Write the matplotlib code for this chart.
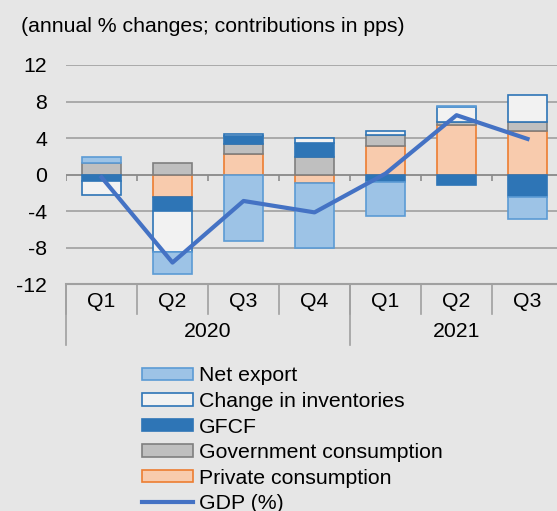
import numpy as np
import matplotlib.pyplot as plt
import matplotlib.transforms as mtransforms

plt.rcParams['font.family'] = ['Liberation Sans', 'DejaVu Sans']

quarters = ["Q1", "Q2", "Q3", "Q4", "Q1", "Q2", "Q3"]
years = ["2020", "2021"]
year_sizes = [4, 3]

# contributions in pps, stacked from zero outward in this order
private_cons = [0.0, -2.5, 2.3, -0.9, 3.1, 5.4, 4.75]
gov_cons = [1.3, 1.3, 1.0, 1.95, 1.25, 0.35, 1.0]
gfcf = [-0.75, -1.45, 0.9, 1.45, -0.8, -1.1, -2.5]
inventories = [-1.55, -4.5, 0.2, 0.6, 0.4, 1.6, 3.0]
net_export = [0.65, -2.45, -7.25, -7.2, -3.75, 0.2, -2.35]
gdp = [-0.3, -9.65, -2.9, -4.15, 0.1, 6.5, 3.9]

series = [
    ("Private consumption", private_cons, "#F8CBAD", "#ED7D31"),
    ("Government consumption", gov_cons, "#BFBFBF", "#7F7F7F"),
    ("GFCF", gfcf, "#2E75B6", "#2E75B6"),
    ("Change in inventories", inventories, "#F2F2F2", "#2E75B6"),
    ("Net export", net_export, "#9DC3E6", "#5B9BD5"),
]

fs = 15.3
bg = "#E6E6E6"
fig = plt.figure(figsize=(5.57, 5.11), dpi=100, facecolor=bg)
ax = fig.add_axes([0.1185, 0.4442, 0.8923, 0.4286], facecolor=bg)

x = np.arange(len(quarters))
pos_base = np.zeros(len(x))
neg_base = np.zeros(len(x))
handles = {}
for name, vals, fc, ec in series:
    vals = np.array(vals)
    bottom = np.where(vals >= 0, pos_base, neg_base)
    b = ax.bar(x, vals, 0.56, bottom=bottom, color=fc, edgecolor=ec,
               linewidth=1.2, zorder=3)
    handles[name] = b
    pos_base = pos_base + np.where(vals >= 0, vals, 0)
    neg_base = neg_base + np.where(vals < 0, vals, 0)

line, = ax.plot(x, gdp, color="#4472C4", linewidth=3, zorder=4)

ax.set_xlim(-0.5, len(x) - 0.5)
ax.set_ylim(-12, 12)
ax.set_yticks([12, 8, 4, 0, -4, -8, -12])
ax.set_yticklabels(["12", "8", "4", "0", "-4", "-8", "-12"])
ax.tick_params(axis="y", length=0, pad=13.5, labelsize=fs)
ax.set_xticks([])
ax.grid(axis="y", color="#A0A0A0", linewidth=1.2, zorder=0)
for s in ["top", "right", "left"]:
    ax.spines[s].set_visible(False)
ax.spines["bottom"].set_color("#A0A0A0")
ax.spines["bottom"].set_linewidth(1.5)

# zero line with category tick marks
ax.axhline(0, color="#8C8C8C", linewidth=1.2, zorder=2)
ax.vlines(np.arange(len(x)) - 0.5, -0.7, 0, color="#8C8C8C", linewidth=1.2, zorder=2)

# category labels below the plot
trans = mtransforms.blended_transform_factory(ax.transData, ax.transAxes)
for i, q in enumerate(quarters):
    ax.text(i, -0.08, q, transform=trans, ha="center", va="center", fontsize=fs)
for b in np.arange(len(x)) - 0.5:
    ax.plot([b, b], [0, -0.137], transform=trans, color="#A0A0A0",
            linewidth=1.2, clip_on=False)
start = 0
for yr, n in zip(years, year_sizes):
    ax.text(start + n / 2 - 0.5, -0.218, yr, transform=trans, ha="center",
            va="center", fontsize=fs)
    ax.plot([start - 0.5, start - 0.5], [0, -0.279], transform=trans,
            color="#A0A0A0", linewidth=1.2, clip_on=False)
    start += n

fig.text(0.038, 0.949, "(annual % changes; contributions in pps)", fontsize=fs,
         ha="left", va="center")

order = ["Net export", "Change in inventories", "GFCF",
         "Government consumption", "Private consumption"]
leg = fig.legend([handles[n] for n in order] + [line], order + ["GDP (%)"],
                 loc="upper left", bbox_to_anchor=(0.255, 0.283),
                 frameon=False, fontsize=fs, handlelength=2.4,
                 handleheight=0.52, labelspacing=0.31, handletextpad=0.28,
                 borderpad=0, borderaxespad=0)

fig.savefig("out.png", dpi=100, facecolor=bg)
